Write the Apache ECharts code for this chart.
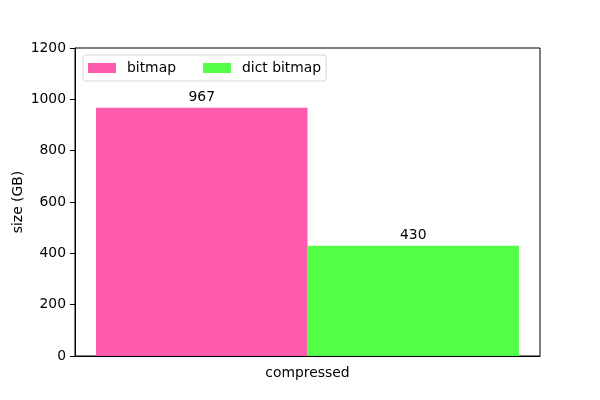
<!DOCTYPE html>
<html>
<head>
<meta charset="utf-8">
<script src="https://cdn.jsdelivr.net/npm/echarts@6/dist/echarts.min.js"></script>
<style>html,body{margin:0;padding:0;background:#fff}#c{width:600px;height:400px}</style>
</head>
<body>
<div id="c"></div>
<script>
const categories = ['compressed'];
const seriesNames = ['bitmap', 'dict bitmap'];
const bitmapValues = [967];
const dictBitmapValues = [430];
const yTicks = [0, 200, 400, 600, 800, 1000, 1200];

const font = 'DejaVu Sans';
const fs = 13.9;
const chart = echarts.init(document.getElementById('c'), null, {renderer: 'canvas'});
chart.setOption({
  animation: false,
  backgroundColor: '#fff',
  textStyle: {fontFamily: font},
  grid: {left: 75, right: 60, top: 48, bottom: 44, show: true, borderColor: '#000', borderWidth: 1, containLabel: false, outerBoundsMode: 'none'},
  legend: {
    left: 83, top: 55,
    orient: 'horizontal',
    data: seriesNames,
    itemWidth: 28, itemHeight: 10, itemGap: 27,
    icon: 'rect',
    borderColor: '#d6d6d6', borderWidth: 1, borderRadius: 3,
    padding: [6, 5, 6, 5],
    textStyle: {fontFamily: font, fontSize: fs, color: '#000', padding: [0, 0, 0, 6]}
  },
  xAxis: {
    type: 'category',
    data: categories,
    axisLine: {lineStyle: {color: '#000'}},
    axisTick: {alignWithLabel: true, length: 5, lineStyle: {color: '#000'}},
    axisLabel: {fontFamily: font, fontSize: fs, color: '#000', margin: 10},
    splitLine: {show: false}
  },
  yAxis: {
    type: 'value',
    min: yTicks[0], max: yTicks[yTicks.length - 1], interval: 200,
    name: 'size (GB)',
    nameLocation: 'middle',
    nameGap: 50,
    nameMoveOverlap: false,
    nameTextStyle: {fontFamily: font, fontSize: fs, color: '#000'},
    axisLine: {show: true, lineStyle: {color: '#000'}},
    axisTick: {show: true, length: 5, lineStyle: {color: '#000'}},
    axisLabel: {fontFamily: font, fontSize: fs, color: '#000', margin: 9, formatter: v => String(v)},
    splitLine: {show: false}
  },
  series: [
    {
      name: seriesNames[0], type: 'bar', data: bitmapValues,
      barWidth: 211.5, barGap: '0%',
      itemStyle: {color: '#ff5cb0'},
      label: {show: true, position: 'top', distance: 3, fontFamily: font, fontSize: fs, color: '#000'}
    },
    {
      name: seriesNames[1], type: 'bar', data: dictBitmapValues,
      barWidth: 211.5, barGap: '0%',
      itemStyle: {color: '#55ff47'},
      label: {show: true, position: 'top', distance: 3, fontFamily: font, fontSize: fs, color: '#000'}
    }
  ]
});
</script>
</body>
</html>
